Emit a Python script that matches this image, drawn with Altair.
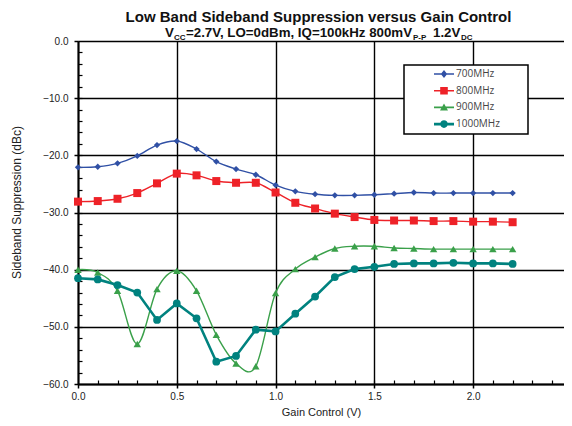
import altair as alt
import pandas as pd

# ---------------- data ----------------
gain = [0.0, 0.1, 0.2, 0.3, 0.4, 0.5, 0.6, 0.7, 0.8, 0.9, 1.0, 1.1,
        1.2, 1.3, 1.4, 1.5, 1.6, 1.7, 1.8, 1.9, 2.0, 2.1, 2.2]

supp_700 = [-22.1, -22.0, -21.4, -20.1, -18.2, -17.5, -18.9, -21.1, -22.4, -23.4, -25.2, -26.3,
            -26.8, -27.0, -27.0, -26.9, -26.7, -26.5, -26.6, -26.6, -26.6, -26.6, -26.6]
supp_800 = [-28.1, -28.0, -27.6, -26.6, -24.9, -23.2, -23.5, -24.5, -24.8, -24.8, -26.5, -28.3,
            -29.3, -30.2, -30.8, -31.3, -31.4, -31.4, -31.5, -31.5, -31.6, -31.6, -31.7]
supp_900 = [-40.0, -40.5, -43.7, -53.0, -43.4, -40.2, -43.7, -51.4, -56.4, -56.9, -44.1, -39.9,
            -37.8, -36.3, -35.9, -35.9, -36.2, -36.3, -36.4, -36.4, -36.4, -36.4, -36.4]
supp_1000 = [-41.5, -41.7, -42.7, -44.0, -48.8, -45.9, -48.5, -56.1, -55.1, -50.5, -50.8, -47.7,
             -44.7, -41.3, -39.9, -39.5, -39.0, -38.9, -38.9, -38.8, -38.9, -38.9, -39.0]

series_names = ["700MHz", "800MHz", "900MHz", "1000MHz"]
series_values = [supp_700, supp_800, supp_900, supp_1000]

x_major = [0.0, 0.5, 1.0, 1.5, 2.0]
x_minor = [round(i * 0.1, 1) for i in range(1, 25)]
y_major = [-60, -50, -40, -30, -20, -10, 0]
y_minor = list(range(-58, 0, 2))

title_text = "Low Band Sideband Suppression versus Gain Control"

# ---------------- styles ----------------
series_colors = ["#3050A5", "#EE2228", "#3AA04A", "#00827F"]
series_shapes = ["diamond", "square", "triangle-up", "circle"]
marker_sizes = [40, 64, 55, 60]
line_widths = [1.4, 1.4, 1.4, 2.6]
interps = ["cardinal", "cardinal", "cardinal", "linear"]
legend_paths = [
    "M-2.5,-0.2L2.5,-0.2L2.5,0.2L-2.5,0.2Z M0,-1L0.8,0L0,1L-0.8,0Z",
    "M-2.5,-0.2L2.5,-0.2L2.5,0.2L-2.5,0.2Z M-0.95,-0.95L0.95,-0.95L0.95,0.95L-0.95,0.95Z",
    "M-2.5,-0.2L2.5,-0.2L2.5,0.2L-2.5,0.2Z M0,-1L1,0.8L-1,0.8Z",
    "M-2.5,-0.32L2.5,-0.32L2.5,0.32L-2.5,0.32Z M-0.95,0A0.95,0.95 0 1,1 0.95,0A0.95,0.95 0 1,1 -0.95,0Z",
]

rows = []
for name, vals in zip(series_names, series_values):
    for g, v in zip(gain, vals):
        rows.append({"gain": g, "supp": v, "series": name})
df = pd.DataFrame(rows)

W, H = 486, 343
x_scale = alt.Scale(domain=[0, 2.46], nice=False, zero=False)
y_scale = alt.Scale(domain=[-60, 0], nice=False, zero=False)

LABEL_FONT = "Liberation Sans"

x_plain = alt.X("gain:Q", scale=x_scale, axis=None)
y_plain = alt.Y("supp:Q", scale=y_scale, axis=None)

# main axes (with grid)
axes_layer = alt.Chart(df).mark_point(opacity=0).encode(
    x=alt.X("gain:Q", scale=x_scale, axis=alt.Axis(
        values=x_major, format=".1f", title="Gain Control (V)",
        grid=True, gridColor="black", gridWidth=1.4,
        domainColor="black", domainWidth=2,
        tickColor="black", tickWidth=1.5, tickSize=4, labelFlush=False,
        labelFont=LABEL_FONT, labelFontSize=10, labelColor="#222", labelPadding=3,
        titleFont=LABEL_FONT, titleFontSize=11, titleFontWeight="normal",
        titleColor="#222", titlePadding=5)),
    y=alt.Y("supp:Q", scale=y_scale, axis=alt.Axis(
        values=y_major, format=".1f", title="Sideband Suppression (dBc)",
        grid=True, gridColor="black", gridWidth=1.4,
        domainColor="black", domainWidth=2,
        tickColor="black", tickWidth=1.5, tickSize=4, labelFlush=False,
        labelFont=LABEL_FONT, labelFontSize=10, labelColor="#222", labelPadding=6,
        titleFont=LABEL_FONT, titleFontSize=12, titleFontWeight="normal",
        titleColor="#222", titleX=-62, titleY=161, titleAngle=270,
        titleAlign="center", titleBaseline="middle")),
)

# minor ticks pointing into the plot
minor_layer = alt.Chart(df).mark_point(opacity=0).encode(
    x=alt.X("gain:Q", scale=x_scale, axis=alt.Axis(
        orient="top", offset=-H, values=x_minor, labels=False, domain=False,
        grid=False, tickColor="black", tickWidth=1.2, tickSize=4, title=None)),
    y=alt.Y("supp:Q", scale=y_scale, axis=alt.Axis(
        orient="right", offset=-W, values=y_minor, labels=False, domain=False,
        grid=False, tickColor="black", tickWidth=1.2, tickSize=4, title=None)),
)

layers = [axes_layer, minor_layer]
for name, col, shp, sz, lw, ip in zip(series_names, series_colors, series_shapes,
                                      marker_sizes, line_widths, interps):
    base = alt.Chart(df).transform_filter(alt.datum.series == name)
    layers.append(base.mark_line(color=col, strokeWidth=lw, interpolate=ip)
                  .encode(x=x_plain, y=y_plain))
    layers.append(base.mark_point(shape=shp, filled=True, color=col, size=sz,
                                  opacity=1, strokeWidth=0)
                  .encode(x=x_plain, y=y_plain))

# pad the legend labels on the right so the legend box is as wide as the reference's
LEG_LABEL_EXPR = "datum.label + '" + "\u00a0" * 9 + "\u200b'"

# legend only layer (no marks drawn)
legend_layer = alt.Chart(df).transform_filter("false").mark_point(
    filled=True, opacity=1).encode(
    x=x_plain, y=y_plain,
    color=alt.Color("series:N", scale=alt.Scale(domain=series_names, range=series_colors),
                    legend=alt.Legend(title=None, labelExpr=LEG_LABEL_EXPR)),
    shape=alt.Shape("series:N", scale=alt.Scale(domain=series_names, range=legend_paths),
                    legend=alt.Legend(title=None, labelExpr=LEG_LABEL_EXPR)),
)
layers.append(legend_layer)


def txt(text, x, y, size, weight="bold", align="left"):
    return alt.Chart(pd.DataFrame({"t": [text]})).mark_text(
        font=LABEL_FONT, fontSize=size, fontWeight=weight, align=align,
        baseline="alphabetic", color="#111").encode(
        text="t:N", x=alt.value(x), y=alt.value(y))


layers += [
    txt(title_text, 240.5, -19, 15, align="center"),
    txt("V", 87, -4, 13.3),
    txt("CC", 96, -1, 8),
    txt("=2.7V, LO=0dBm, IQ=100kHz 800mV", 108, -4, 13.3),
    txt("P-P", 335, -1, 8),
    txt("1.2V", 355, -4, 13.3),
    txt("DC", 383, -1, 8),
]

chart = alt.layer(*layers).resolve_axis(
    x="independent", y="independent"
).properties(
    width=W, height=H,
    autosize=alt.AutoSizeParams(type="none"),
    padding={"left": 70, "top": 33, "right": 0, "bottom": 34},
).configure_view(stroke=None).configure_legend(
    orient="none", legendX=326, legendY=24,
    fillColor="white", strokeColor="black", strokeWidth=1.5,
    padding=4, symbolOffset=31, symbolSize=64, symbolStrokeWidth=0,
    labelFont="Open Sans", labelFontSize=10, labelColor="#444",
    labelOffset=7, rowPadding=6.7,
)

chart.save("out.html", embed_options={"renderer": "svg", "actions": False})
